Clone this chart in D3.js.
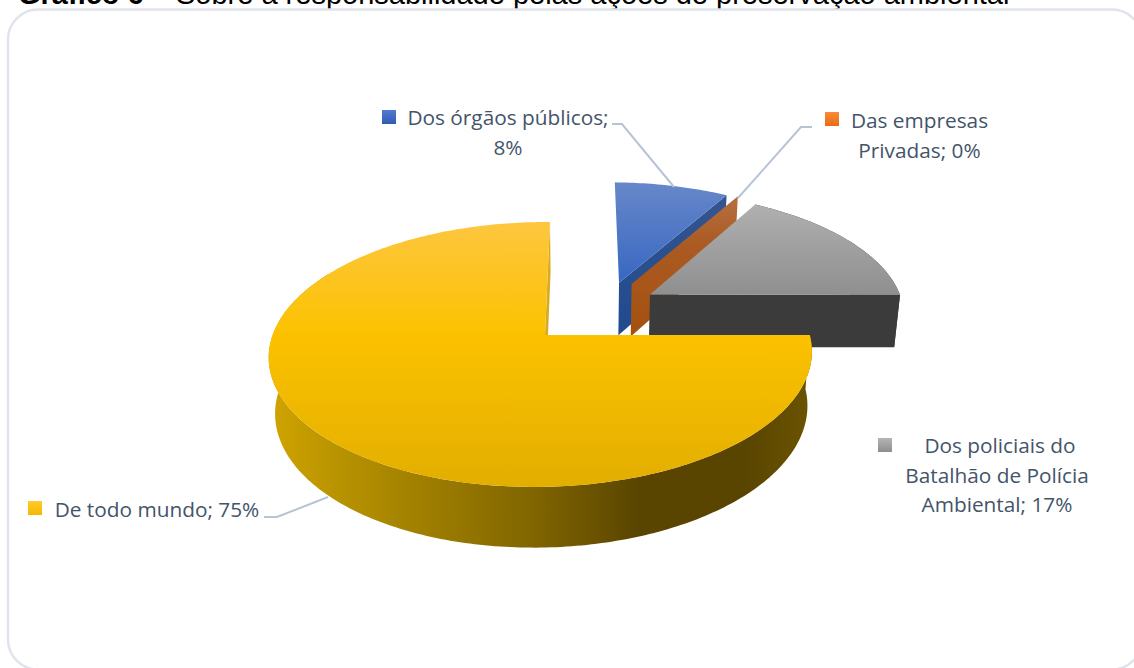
<!DOCTYPE html>
<html><head><meta charset="utf-8">
<script src="https://cdnjs.cloudflare.com/ajax/libs/d3/7.8.5/d3.min.js"></script>
<style>html,body{margin:0;padding:0;background:#fff;overflow:hidden}svg{display:block}</style>
</head><body><svg id="c" width="1134" height="668"></svg>
<script>
const categories = ["Dos órgãos públicos","Das empresas Privadas","Dos policiais do Batalhão de Polícia Ambiental","De todo mundo"];
const values = [8.33,0,16.67,75];
const lineBreaks = [[3],[2],[3,6],[]];
const topTop = ["#6687ca","#b56a3a","#b0b0b0","#fdc63f"];
const topMid = ["#3565c0","#a9551a","#8f8f8f","#fcc200"];
const wallColor = ["#224a8c","#a5520f","#3b3b3b","#d9ab22"];
const keyTop = ["#4f7bd0","#f98b3c","#b5b5b5","#ffcb2e"];
const keyBot = ["#2f5cb0","#ea6a12","#8e8e8e","#f5b800"];
const titleBold = "Gráfico 6";
const titleRest = " – Sobre a responsabilidade pelas ações de preservação ambiental";
// exploded-slice layout (pie-plane units) and label placement
const explodeU = [0.285,0.335,0.405,0];
const explodeV = [0.43,0.42,0.33,0];
const labelCx = [508,919.5,997,157];
const labelY0 = [125,128,453,517];
const keyXY = [[382,110],[825,112],[878,438],[28,501]];
const leaders = [[[612,124],[622,124],[674,187]],[[812,127],[801,127],[738,198]],[null],[[264,517],[277,517],[328,497]]];

const svg = d3.select("#c");
const defs = svg.append("defs");
const R=268,H=129.6,D=56,P=0.147,Q=0.014,RZ=0.02,CY=335,VX=584,OX=-39;
function proj(theta,r,z,i){
  const u=explodeU[i]+r*Math.sin(theta), v=explodeV[i]+r*Math.cos(theta);
  const w=1/(1+P*v+Q*u+RZ*z);
  return [VX+(OX+R*u)*w, CY+(-H*v+D*z)*w];
}
const line=d3.line().curve(d3.curveLinear);
function lg(id,stops,x1,y1,x2,y2){
  const g=defs.append("linearGradient").attr("id",id).attr("gradientUnits","userSpaceOnUse")
    .attr("x1",x1).attr("y1",y1).attr("x2",x2).attr("y2",y2);
  stops.forEach(s=>g.append("stop").attr("offset",s[0]).attr("stop-color",s[1]));
  return "url(#"+id+")";
}
const arcs=d3.pie().sort(null).value(d=>d)(values);
function arcPts(a0,a1){
  const n=Math.max(2,Math.ceil((a1-a0)*60));
  return d3.range(n+1).map(k=>a0+(a1-a0)*k/n);
}
const g=svg.append("g");
const topRange=[[183,290],[197,300],[204,294],[222,487]];
// draw slices back to front
arcs.forEach((a,i)=>{
  const ts=arcPts(a.startAngle,a.endAngle);
  const apexTop=proj(0,0,0,i),apexBot=proj(0,0,1,i);
  const endT=proj(a.endAngle,1,0,i),endB=proj(a.endAngle,1,1,i);
  if(i===3){
    // cut face at the closing angle, seen as a thin sliver
    g.append("path").attr("d",line([apexTop,endT,endB,apexBot])+"Z").attr("fill",wallColor[i]);
    // outer rim, front part only
    const front=arcPts(a.startAngle,a.startAngle+Math.PI*7/6);
    const rim=front.map(t=>proj(t,1,0,i)).concat(front.slice().reverse().map(t=>proj(t,1,1,i)));
    g.append("path").attr("d",line(rim)+"Z").attr("fill",lg("rimY",[[0,"#d0a400"],[0.16,"#b38f00"],[0.5,"#7e6300"],[0.68,"#5a4500"],[0.88,"#5a4500"],[1,"#6b5400"]],268,0,812,0));
  } else {
    if(i===2){
      const rim=ts.map(t=>proj(t,1,0,i)).concat(ts.slice().reverse().map(t=>proj(t,1,1,i)));
      g.append("path").attr("d",line(rim)+"Z").attr("fill",wallColor[i]);
    }
    const wf=i===1?lg("wallO",[[0,"#b56f42"],[0.35,"#ab5a22"],[1,"#a4510f"]],0,197,0,335):
             i===0?lg("wallB",[[0,"#34558f"],[1,"#1f4a8f"]],0,197,0,335):wallColor[i];
    g.append("path").attr("d",line([apexTop,endT,endB,apexBot])+"Z").attr("fill",wf);
  }
  if(a.endAngle>a.startAngle){
    const pts=[apexTop].concat(ts.map(t=>proj(t,1,0,i)));
    const [y0,y1]=topRange[i];
    const stops=i===3?[[0,topTop[i]],[(335-222)/(487-222),topMid[i]],[1,"#e2ae00"]]:[[0,topTop[i]],[1,topMid[i]]];
    g.append("path").attr("d",line(pts)+"Z").attr("fill",lg("top"+i,stops,0,y0,0,y1));
  }
});
// leader lines
leaders.forEach(l=>{ if(l[0]) svg.append("path").attr("d",line(l)).attr("fill","none").attr("stroke","#b8c4d6").attr("stroke-width",2); });
// labels
categories.forEach((c,i)=>{
  const words=(c+"; "+Math.round(values[i])+"%").split(" ");
  const cuts=[0,...lineBreaks[i],words.length];
  const lines=d3.pairs(cuts).map(([p,q])=>words.slice(p,q).join(" "));
  const t=svg.append("text").attr("font-family","'Open Sans'").attr("font-size",20.8).attr("fill","#44546a").attr("text-anchor","middle");
  lines.forEach((s,k)=>t.append("tspan").attr("x",labelCx[i]+(i===2&&k===0?3:0)).attr("y",labelY0[i]+k*29.5).text(s));
  const kg=lg("key"+i,[[0,keyTop[i]],[1,keyBot[i]]],0,keyXY[i][1],0,keyXY[i][1]+14);
  svg.append("rect").attr("x",keyXY[i][0]).attr("y",keyXY[i][1]).attr("width",14).attr("height",14).attr("fill",kg);
});
// title, clipped by the top of the picture as in the reference
const tt=svg.append("text").attr("x",18).attr("y",4).attr("font-family","'Liberation Sans'").attr("font-size",29).attr("fill","#000");
tt.append("tspan").attr("font-weight","bold").text(titleBold);
tt.append("tspan").attr("xml:space","preserve").text(titleRest);
// frame
svg.append("rect").attr("x",8).attr("y",9.5).attr("width",1134).attr("height",660).attr("rx",30).attr("fill","none").attr("stroke","#dfe3ec").attr("stroke-width",2.4);
</script></body></html>
